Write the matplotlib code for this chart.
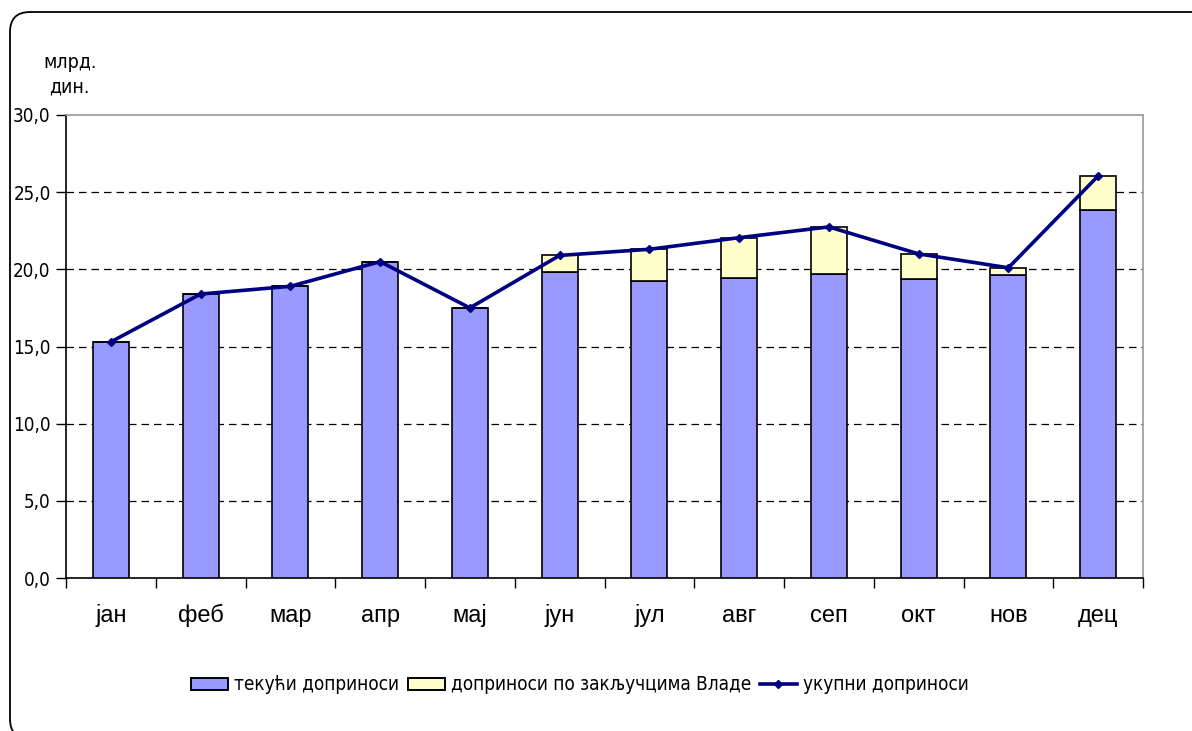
import numpy as np
import matplotlib
matplotlib.use("Agg")
import matplotlib.pyplot as plt
from matplotlib.patches import FancyBboxPatch
from matplotlib.lines import Line2D
from matplotlib.transforms import IdentityTransform
from matplotlib.ticker import FixedLocator, FixedFormatter

# podaci (mlrd. din.)
months = ["јан", "феб", "мар", "апр", "мај", "јун", "јул", "авг", "сеп", "окт", "нов", "дец"]
current = [15.3, 18.4, 18.9, 20.5, 17.5, 19.85, 19.25, 19.45, 19.7, 19.4, 19.65, 23.85]
govt = [0.0, 0.0, 0.0, 0.0, 0.0, 1.05, 2.05, 2.6, 3.05, 1.6, 0.45, 2.2]
total = [c + g for c, g in zip(current, govt)]

label_cur = "текући доприноси"
label_gov = "доприноси по закључцима Владе"
label_tot = "укупни доприноси"

plt.rcParams["font.family"] = ["DejaVu Sans"]

W, H = 1192, 731
fig = plt.figure(figsize=(W / 100, H / 100), dpi=100)

# rounded frame (pixel coords, runs off the right and bottom edge)
frame = FancyBboxPatch((10, -8), 1230, H - 12 + 8,
                       boxstyle="round,pad=0,rounding_size=20",
                       transform=IdentityTransform(), fill=False,
                       edgecolor="black", linewidth=1.3)
fig.patches.append(frame)

ax = fig.add_axes([66 / W, 1 - 578 / H, (1143 - 66) / W, (578 - 115) / H])

x = np.arange(len(months))
ax.bar(x, current, width=0.4, color="#9999FF", edgecolor="black", linewidth=1.2, zorder=3)
ax.bar(x, govt, width=0.4, bottom=current, color="#FFFFCC", edgecolor="black", linewidth=1.2, zorder=3)
ax.plot(x, total, color="#000080", linewidth=2.6, marker="D", markersize=4, zorder=4)

ax.set_xlim(-0.5, len(months) - 0.5)
ax.set_ylim(0, 30)

yt = np.arange(0, 31, 5)
ax.set_yticks(yt)
ax.set_yticklabels([f"{v:.1f}".replace(".", ",") for v in yt],
                   fontsize=13.5, family="DejaVu Sans", stretch="condensed")
ax.tick_params(axis="y", direction="out", length=7, width=1, pad=4)

ax.xaxis.set_major_locator(FixedLocator(np.arange(-0.5, len(months), 1)))
ax.xaxis.set_major_formatter(FixedFormatter([""] * (len(months) + 1)))
ax.xaxis.set_minor_locator(FixedLocator(x))
ax.xaxis.set_minor_formatter(FixedFormatter(months))
ax.tick_params(axis="x", which="major", direction="out", length=7, width=1)
ax.tick_params(axis="x", which="minor", length=0, pad=32, labelsize=17)
for t in ax.get_xticklabels(minor=True):
    t.set_family("Liberation Sans")
    t.set_verticalalignment("baseline")

for v in yt[1:-1]:
    ax.axhline(v, color="black", linestyle=(0, (6, 4)), linewidth=0.9, zorder=1)

ax.spines["left"].set_color("black")
ax.spines["bottom"].set_color("black")
ax.spines["top"].set_color("#999999")
ax.spines["right"].set_color("#999999")
for s in ax.spines.values():
    s.set_linewidth(1.2)

fig.text(70 / W, 1 - 62 / H, "млрд.", fontsize=14, ha="center", va="center", stretch="condensed")
fig.text(69 / W, 1 - 87 / H, "дин.", fontsize=14, ha="center", va="center", stretch="condensed")

handles = [
    plt.Rectangle((0, 0), 1, 1, facecolor="#9999FF", edgecolor="black", linewidth=1.4),
    plt.Rectangle((0, 0), 1, 1, facecolor="#FFFFCC", edgecolor="black", linewidth=1.4),
    Line2D([], [], color="#000080", linewidth=2.6, marker="D", markersize=4),
]
fig.legend(handles, [label_cur, label_gov, label_tot], loc="center",
           bbox_to_anchor=(580 / W, 1 - 685 / H), ncol=3, frameon=False,
           handlelength=1.95, handleheight=0.6, handletextpad=0.35,
           columnspacing=0.45, borderpad=0,
           prop={"stretch": "condensed", "size": 13.6})

fig.savefig("out.png", dpi=100)
